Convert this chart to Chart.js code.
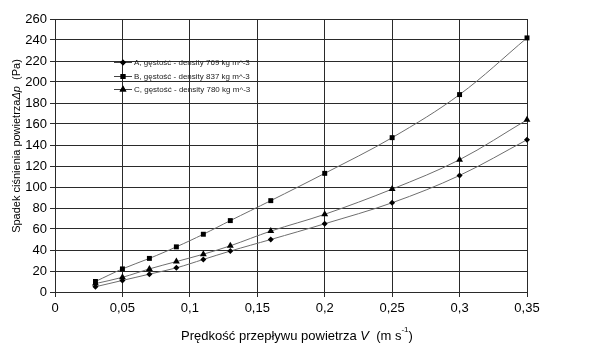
<!DOCTYPE html>
<html>
<head>
<meta charset="utf-8">
<script src="https://cdn.jsdelivr.net/npm/chart.js@4/dist/chart.umd.min.js"></script>
<style>
  html, body { margin: 0; padding: 0; background: #fff; }
  #wrap { position: relative; width: 600px; height: 346px; }
</style>
</head>
<body>
<div id="wrap"><canvas id="chart"></canvas></div>
<script>
// prędkość powietrza (m/s) i spadek ciśnienia (Pa)
const velocity = [0.03, 0.05, 0.07, 0.09, 0.11, 0.13, 0.16, 0.2, 0.25, 0.3, 0.35];
const seriesA  = [5, 11, 17, 23, 31, 39, 50, 65, 85, 111, 145];
const seriesB  = [10, 22, 32, 43, 55, 68, 87, 113, 147, 188, 242];
const seriesC  = [8, 14, 22, 29, 36, 44, 58, 74, 98, 126, 164];

const labelA = 'A, gęstość - density 769 kg m^-3';
const labelB = 'B, gęstość - density 837 kg m^-3';
const labelC = 'C, gęstość - density 780 kg m^-3';

const FONT = 'Arial, "Liberation Sans", sans-serif';

const pts = (ys) => velocity.map((v, i) => ({ x: v, y: ys[i] }));
const fmtPL = (v) => String(Math.round(v * 100) / 100).replace('.', ',');

function ds(label, ys, style, radius) {
  return {
    label,
    data: pts(ys),
    showLine: true,
    clip: false,
    borderColor: '#6e6e6e',
    borderWidth: 1,
    tension: 0.35,
    pointStyle: style,
    pointRadius: radius,
    pointBackgroundColor: '#000',
    pointBorderColor: '#000',
    pointBorderWidth: 0,
  };
}

// legenda w polu wykresu + tytuły osi z kursywą i indeksem górnym
const extras = {
  id: 'extras',
  afterDraw(chart) {
    const ctx = chart.ctx;
    ctx.save();
    ctx.fillStyle = '#000';
    ctx.textBaseline = 'middle';

    // legenda
    const rows = [62, 76, 89];
    chart.data.datasets.forEach((d, i) => {
      const y = rows[i];
      ctx.strokeStyle = '#444';
      ctx.lineWidth = 1;
      ctx.beginPath();
      ctx.moveTo(114, y + 0.5);
      ctx.lineTo(132, y + 0.5);
      ctx.stroke();
      Chart.helpers.drawPoint(ctx, { pointStyle: d.pointStyle, radius: d.pointRadius, rotation: 0, borderWidth: 0 }, 123, y + 0.5);
      ctx.fillStyle = '#000';
      ctx.fill();
      ctx.fillStyle = '#222';
      ctx.font = '8px ' + FONT;
      ctx.fillText(d.label, 134, y + 0.5);
    });
    ctx.fillStyle = '#000';

    // tytuł osi X
    const runsX = [
      ['Prędkość przepływu powietrza ', '13px ' + FONT, 0],
      ['V', 'italic 13px ' + FONT, 0],
      ['  (m s', '13px ' + FONT, 0],
      ['-1', '8px ' + FONT, -6],
      [')', '13px ' + FONT, 0],
    ];
    drawRuns(ctx, runsX, 297, 336);

    // tytuł osi Y (obrócony)
    ctx.translate(17, 146);
    ctx.rotate(-Math.PI / 2);
    const runsY = [
      ['Spadek ciśnienia powietrza', '11px ' + FONT, 0],
      ['Δp', 'italic 11px ' + FONT, 0],
      ['  (Pa)', '11px ' + FONT, 0],
    ];
    drawRuns(ctx, runsY, 0, 0);
    ctx.restore();
  }
};

function drawRuns(ctx, runs, cx, cy) {
  let total = 0;
  runs.forEach(([t, f]) => { ctx.font = f; total += ctx.measureText(t).width; });
  let x = cx - total / 2;
  ctx.textAlign = 'left';
  runs.forEach(([t, f, dy]) => {
    ctx.font = f;
    ctx.fillText(t, x, cy + dy);
    x += ctx.measureText(t).width;
  });
}

new Chart(document.getElementById('chart'), {
  type: 'scatter',
  data: {
    datasets: [
      ds(labelA, seriesA, 'rectRot', 3),
      ds(labelB, seriesB, 'rect', 3.5),
      ds(labelC, seriesC, 'triangle', 4),
    ],
  },
  options: {
    responsive: true,
    maintainAspectRatio: false,
    animation: false,
    layout: { padding: { top: 19, right: 73, left: 0, bottom: 0 } },
    plugins: {
      legend: { display: false },
      tooltip: { enabled: false },
    },
    scales: {
      x: {
        type: 'linear',
        min: 0,
        max: 0.35,
        afterFit: (s) => { s.height = 54; },
        afterBuildTicks: (s) => {
          s.ticks = [0, 0.05, 0.1, 0.15, 0.2, 0.25, 0.3, 0.35].map(v => ({ value: v }));
        },
        grid: { color: '#2a2a2a', lineWidth: 1, tickLength: 5 },
        border: { color: '#2a2a2a' },
        ticks: {
          color: '#000',
          font: { family: FONT, size: 13 },
          padding: 4,
          maxRotation: 0,
          callback: (v) => fmtPL(v),
        },
      },
      y: {
        min: 0,
        max: 260,
        afterFit: (s) => { s.width = 55; },
        grid: { color: '#2a2a2a', lineWidth: 1, tickLength: 5 },
        border: { color: '#2a2a2a' },
        ticks: {
          stepSize: 20,
          color: '#000',
          font: { family: FONT, size: 13 },
          padding: 3,
        },
      },
    },
  },
  plugins: [extras],
});
</script>
</body>
</html>
